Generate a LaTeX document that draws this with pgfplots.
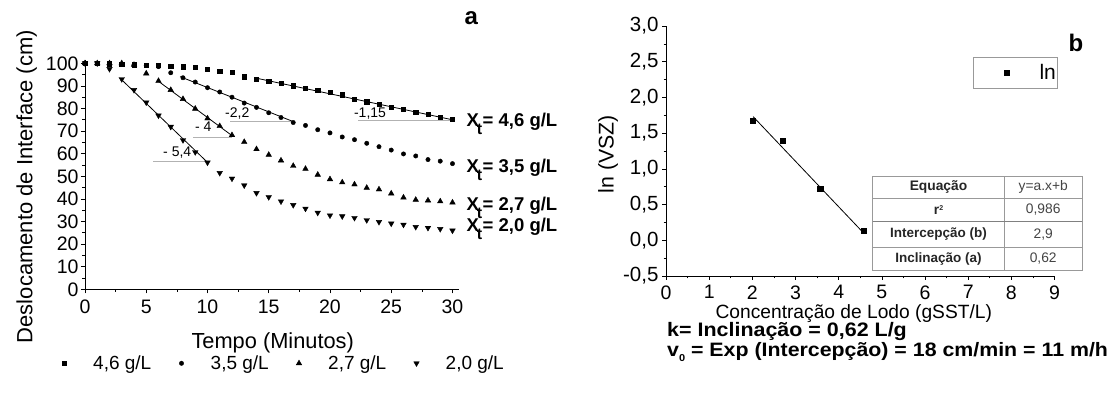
\documentclass[border=0pt]{standalone}
\usepackage{pgfplots}
\pgfplotsset{compat=1.18}
\usepackage{fontspec}
\setmainfont{Liberation Sans}
\newfontfamily\widefont[FakeStretch=1.1]{Liberation Sans}
\newcommand\fs[1]{\fontsize{#1}{#1}\selectfont}
\newcommand\Xt[1]{X\kern-2pt\raisebox{-8pt}{\fs{16}t}\kern0.5pt= #1 g/L}
\definecolor{tgray}{HTML}{444444}
\definecolor{bgray}{HTML}{999999}
\begin{document}
\begin{tikzpicture}[x=1pt,y=1pt]
\path[use as bounding box] (0,0) rectangle (1115,396);

% ---------------- left chart (a) ----------------
\begin{axis}[
  at={(85pt,106.7pt)}, anchor=south west, scale only axis,
  width=373.6pt, height=229.4pt,
  xmin=0, xmax=30.5, ymin=0, ymax=101.5,
  axis lines=left, axis line style={-, line width=0.8pt},
  tick align=outside, major tick length=4pt, minor tick length=2.5pt,
  tick style={black, line width=0.6pt},
  xtick={0,5,...,30}, ytick={0,10,...,100},
  minor xtick={2.5,7.5,...,27.5}, minor ytick={5,15,...,95},
  /pgf/number format/assume math mode=true,
  tick label style={font=\fs{19.5}},
  yticklabel style={xshift=1pt},
  xticklabel style={yshift=-3.5pt},
  clip=false,
  xlabel={Tempo (Minutos)},
  xlabel style={at={(axis description cs:0.5024,-0.2315)}, anchor=center, font=\fs{21.8}},
  ylabel={Deslocamento de Interface (cm)},
  ylabel style={at={(axis description cs:-0.1558,0.4473)}, anchor=center, font=\fs{22}},
  legend style={at={(-0.0787,-0.3226)}, anchor=west, draw=none, fill=none,
    inner sep=0pt, font=\fs{19},
    /tikz/every odd column/.append style={column sep=19pt},
    /tikz/every even column/.append style={column sep=20pt},
    nodes={inner sep=2pt}},
  legend columns=4,
  legend image code/.code={\path (0pt,0pt) (16pt,0pt); \draw[mark repeat=2,mark phase=2,#1] plot coordinates {(0pt,0pt) (8pt,0pt) (16pt,0pt)};},
]
\addplot[only marks, mark=square*, mark size=2.1pt, black] coordinates {
(0,100) (1,100) (2,99.8) (3,99.5) (4,99.4) (5,99.3) (6,99.1) (7,98.8) (8,98.5) (9,98.1)
(10,97.5) (11,96.6) (12,95.9) (13,94.1) (14,93.0) (15,92.2) (16,91.1) (17,90.1) (18,89.0) (19,88.0)
(20,87.1) (21,86.1) (22,84.1) (23,83.0) (24,82.0) (25,80.5) (26,79.6) (27,78.5) (28,77.4) (29,76.2) (30,75.1)};
\addlegendentry{4,6 g/L}
\addplot[only marks, mark=*, mark size=2.2pt, black] coordinates {
(0,100) (1,100) (2,99.6) (3,99.5) (4,99.3) (5,99.0) (6,98.5) (7,95.8) (8,93.6) (9,91.7)
(10,89.2) (11,87.3) (12,85.0) (13,82.4) (14,80.5) (15,78.1) (16,76.0) (17,73.8) (18,72.5) (19,70.6)
(20,69.2) (21,67.4) (22,66.2) (23,64.6) (24,63.1) (25,61.6) (26,59.9) (27,59.0) (28,57.4) (29,56.7) (30,55.6)};
\addlegendentry{3,5 g/L}
\addplot[only marks, mark=triangle*, mark size=3.2pt, black] coordinates {
(0,100) (1,100) (2,100) (3,100) (4,99.3) (5,95.5) (6,92.2) (7,88.2) (8,84.2) (9,79.9)
(10,75.6) (11,72.2) (12,68.2) (13,65.2) (14,62.0) (15,59.5) (16,57.0) (17,54.6) (18,53.3) (19,50.7)
(20,48.7) (21,47.3) (22,46.4) (23,44.9) (24,44.2) (25,42.4) (26,40.6) (27,39.6) (28,39.3) (29,38.9) (30,38.4)};
\addlegendentry{2,7 g/L}
\addplot[only marks, mark=triangle*, mark size=3.2pt, mark options={rotate=180}, black] coordinates {
(0,100) (1,100) (2,97.5) (3,93.0) (4,88.2) (5,82.7) (6,76.9) (7,71.9) (8,66.0) (9,60.7)
(10,56.1) (11,51.5) (12,49.0) (13,46.0) (14,42.6) (15,40.8) (16,38.9) (17,37.3) (18,35.7) (19,33.9)
(20,32.7) (21,32.3) (22,31.6) (23,30.6) (24,29.8) (25,29.1) (26,28.6) (27,27.6) (28,27.2) (29,26.7) (30,26.0)};
\addlegendentry{2,0 g/L}
% fitted slopes
\addplot[black, line width=0.8pt, forget plot] coordinates {(14,93.4) (30,75.0)};
\addplot[black, line width=0.8pt, forget plot] coordinates {(7.76,94.1) (17,74.2)};
\addplot[black, line width=0.8pt, forget plot] coordinates {(5.93,92.3) (12.05,67.8)};
\addplot[black, line width=0.8pt, forget plot] coordinates {(2.86,93.4) (10.07,55.8)};
% reference horizontals
\addplot[gray!60, line width=0.8pt, forget plot] coordinates {(22.3,74.8) (30.1,74.8)};
\addplot[gray!60, line width=0.8pt, forget plot] coordinates {(11.84,74.2) (17.0,74.2)};
\addplot[gray!60, line width=0.8pt, forget plot] coordinates {(8.84,67.1) (11.98,67.1)};
\addplot[gray!60, line width=0.8pt, forget plot] coordinates {(5.58,56.5) (9.93,56.5)};
\node[font=\fs{14}] at (axis cs:23.27,77.6) {-1,15};
\node[font=\fs{14}] at (axis cs:12.43,77.9) {-2,2};
\node[font=\fs{14}] at (axis cs:9.66,71.9) {- 4};
\node[font=\fs{14}] at (axis cs:7.53,60.6) {- 5,4};
\node[anchor=base west, font=\bfseries\fs{18.5}] at (axis cs:30.86,71.9) {\Xt{4,6}};
\node[anchor=base west, font=\bfseries\fs{18.5}] at (axis cs:30.86,51.6) {\Xt{3,5}};
\node[anchor=base west, font=\bfseries\fs{18.5}] at (axis cs:30.86,34.8) {\Xt{2,7}};
\node[anchor=base west, font=\bfseries\fs{18.5}] at (axis cs:30.86,25.5) {\Xt{2,0}};
\node[font=\bfseries\fs{24}] at (axis description cs:1.034,1.181) {a};
\end{axis}

% ---------------- right chart (b) ----------------
\begin{axis}[
  at={(666pt,120pt)}, anchor=south west, scale only axis,
  width=388.5pt, height=250pt,
  xmin=0, xmax=9, ymin=-0.5, ymax=3,
  axis lines=left, axis line style={-, line width=0.8pt},
  tick align=outside, major tick length=4pt, minor tick length=2.5pt,
  tick style={black, line width=0.6pt},
  xtick={0,1,...,9}, ytick={-0.5,0,0.5,1,1.5,2,2.5,3},
  minor xtick={0.5,1.5,...,8.5}, minor ytick={-0.25,0.25,0.75,1.25,1.75,2.25,2.75},
  /pgf/number format/assume math mode=true,
  yticklabel style={font=\fs{20.5}, /pgf/number format/.cd, fixed, fixed zerofill, precision=1, use comma},
  xticklabel style={font=\fs{19.5}, yshift=-2pt},
  clip=false,
  xlabel={Concentração de Lodo (gSST/L)},
  xlabel style={at={(axis description cs:0.4834,-0.1492)}, anchor=center, font=\fs{19.2}},
  ylabel={ln (VSZ)},
  ylabel style={at={(axis description cs:-0.1493,0.488)}, anchor=center, font=\fs{21.3}},
  legend style={at={(0.791,0.8748)}, anchor=north west, draw=bgray, line width=0.8pt,
    fill=white, inner xsep=0pt, inner ysep=5pt, font=\fs{21},
    /tikz/every odd column/.append style={column sep=17pt},
    nodes={inner sep=2pt}},
  legend image code/.code={\path (-20pt,0pt) (26pt,0pt); \draw[mark repeat=2,mark phase=2,#1] plot coordinates {(0pt,0pt) (13pt,0pt) (26pt,0pt)};},
]
\addplot[only marks, mark=square*, mark size=2.6pt, black] coordinates {
(2.0,1.675) (2.7,1.395) (3.57,0.727) (4.58,0.13)};
\addlegendentry{ln\hspace{7pt}}
\addplot[black, line width=0.8pt, forget plot] coordinates {(2.02,1.73) (4.58,0.10)};
\node[font=\bfseries\fs{24}] at (axis description cs:1.0553,0.9308) {b};
\end{axis}

% ---------------- fit table ----------------
\fill[white] (872.7,126) rectangle (1082,220);
\draw[bgray, line width=0.8pt] (872.7,126) rectangle (1082,220);
\draw[bgray, line width=0.8pt] (1004.3,126) -- (1004.3,220);
\draw[bgray, line width=0.6pt] (872.7,197.7) -- (1082,197.7);
\draw[gray, line width=1pt] (872.7,174.3) -- (1082,174.3);
\draw[bgray, line width=0.6pt] (872.7,148.7) -- (1082,148.7);
\node[font=\bfseries\fs{13.8}, text=black!85] at (938.5,208.85) {Equação};
\node[font=\bfseries\fs{13.8}, text=black!85] at (938.5,186) {r\raisebox{4pt}{\fs{7}2}};
\node[font=\bfseries\fs{13.5}, text=black!85] at (938.5,161.5) {Intercepção (b)};
\node[font=\bfseries\fs{13.5}, text=black!85] at (938.5,137.3) {Inclinação (a)};
\node[font=\fs{13.8}, text=tgray] at (1043.2,208.85) {y=a.x+b};
\node[font=\fs{13.8}, text=tgray] at (1043.2,186) {0,986};
\node[font=\fs{13.8}, text=tgray] at (1043.2,161.5) {2,9};
\node[font=\fs{13.8}, text=tgray] at (1043.2,137.3) {0,62};

% ---------------- notes below chart b ----------------
\node[anchor=base west, inner sep=0pt, font=\widefont\bfseries\fs{19.5}] at (667,59.3) {k= Inclinação = 0,62 L/g};
\node[anchor=base west, inner sep=0pt, font=\widefont\bfseries\fs{19.4}] at (667,39.3) {v\raisebox{-5pt}{\fs{10}0} = Exp (Intercepção) = 18 cm/min = 11 m/h};
\end{tikzpicture}
\end{document}
